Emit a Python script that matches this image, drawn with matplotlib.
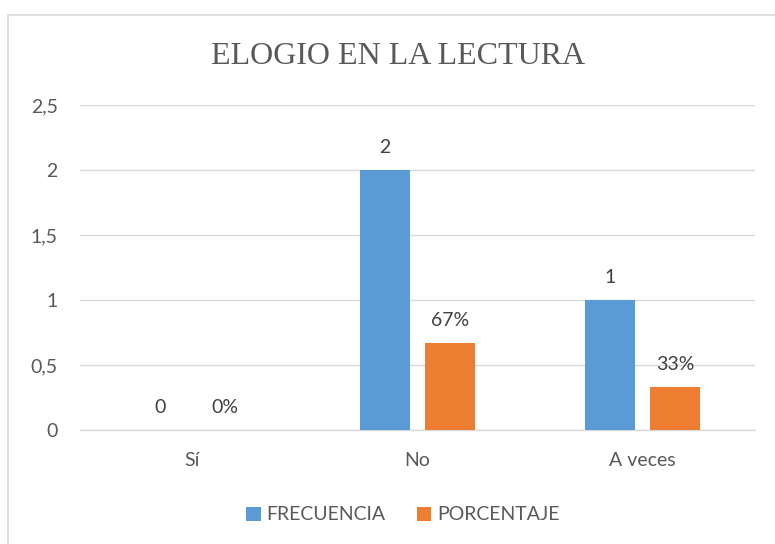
import matplotlib
matplotlib.use("Agg")
import matplotlib.pyplot as plt
from matplotlib.patches import Rectangle
import numpy as np

categories = ["Sí", "No", "A veces"]
frecuencia = [0, 2, 1]
porcentaje = [0.0, 0.6667, 0.3333]
freq_labels = ["0", "2", "1"]
pct_labels = ["0%", "67%", "33%"]
yticks = [0, 0.5, 1, 1.5, 2, 2.5]
ytick_labels = ["0", "0,5", "1", "1,5", "2", "2,5"]

blue = "#5B9BD5"
orange = "#ED7D31"
txt = "#595959"
grid = "#D9D9D9"
sans = ["Lato", "DejaVu Sans"]
fs = 14

fig = plt.figure(figsize=(7.75, 5.44), dpi=100)
W, H = 775, 544
fig.patches.append(Rectangle((8 / W, -0.01), 1.02, 1 - 15 / H + 0.01, transform=fig.transFigure,
                             fill=False, edgecolor="#D9D9D9", linewidth=1.2))

ax = fig.add_axes([80 / W, 1 - 430 / H, 675 / W, 325 / H])
x = np.arange(len(categories))
bw = 0.222
off = 0.145
ax.bar(x - off, frecuencia, bw, color=blue, label="FRECUENCIA", zorder=3)
ax.bar(x + off, porcentaje, bw, color=orange, label="PORCENTAJE", zorder=3)

for xi, v, l in zip(x, frecuencia, freq_labels):
    ax.annotate(l, (xi - off, v), xytext=(0, 10), textcoords="offset points",
                ha="center", va="bottom", fontsize=fs, color="#404040", family=sans)
for xi, v, l in zip(x, porcentaje, pct_labels):
    ax.annotate(l, (xi + off, v), xytext=(0, 10), textcoords="offset points",
                ha="center", va="bottom", fontsize=fs, color="#404040", family=sans)

ax.set_xlim(-0.5, 2.5)
ax.set_ylim(0, 2.5)
ax.set_yticks(yticks)
ax.set_yticklabels(ytick_labels, fontsize=fs, color=txt, family=sans)
ax.set_xticks(x)
ax.set_xticklabels(categories, fontsize=fs, color=txt, family=sans)
ax.tick_params(axis="both", length=0)
ax.tick_params(axis="y", pad=16)
ax.tick_params(axis="x", pad=16)
ax.grid(axis="y", color=grid, linewidth=1, zorder=0)
for s in ["top", "right", "left"]:
    ax.spines[s].set_visible(False)
ax.spines["bottom"].set_color(grid)
ax.spines["bottom"].set_linewidth(1)

fig.text(398 / W, 1 - 56 / H, "ELOGIO EN LA LECTURA", ha="center", va="center",
         fontsize=23, color=txt, family=["Liberation Serif", "DejaVu Serif"])

fig.legend(*ax.get_legend_handles_labels(), loc="center", bbox_to_anchor=(403 / W, 1 - 515 / H),
           ncol=2, frameon=False, handlelength=0.75, handleheight=0.75,
           handletextpad=0.3, columnspacing=1.6, labelcolor=txt, prop={"family": sans, "size": fs})

fig.savefig("out.png", dpi=100)
